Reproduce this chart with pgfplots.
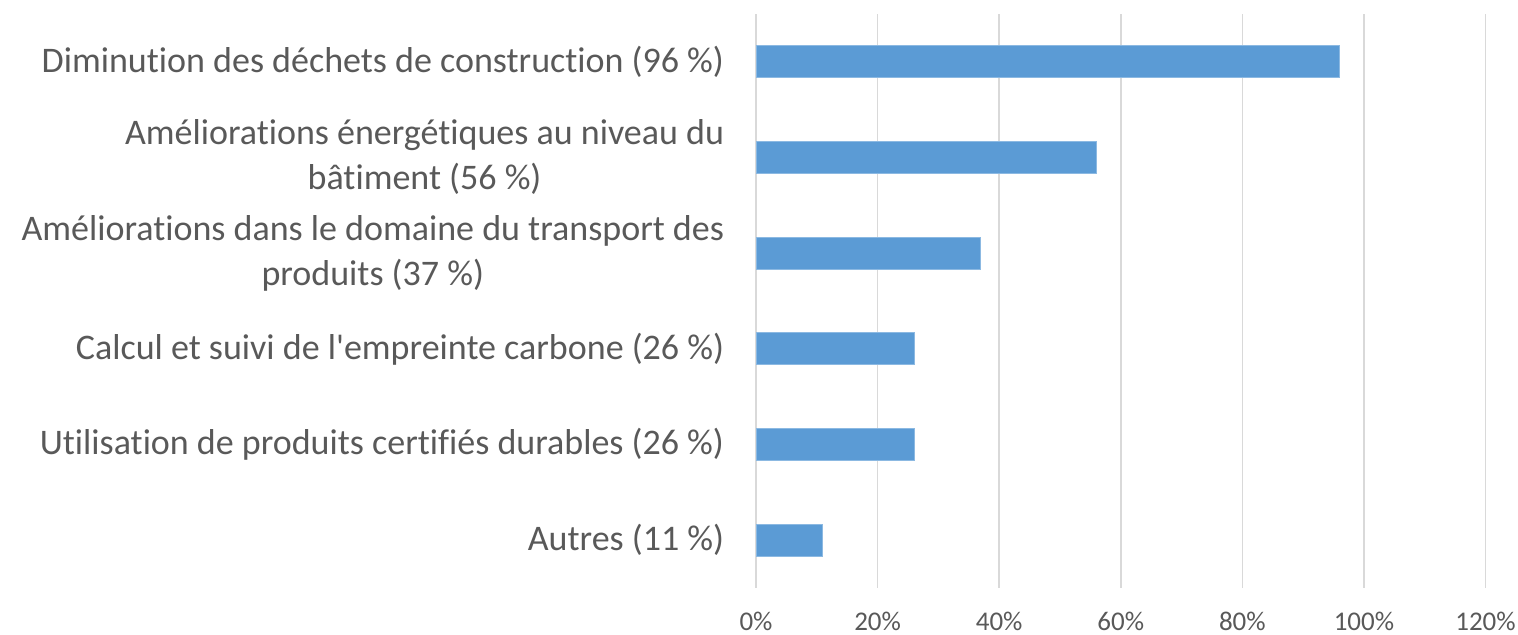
\documentclass[border=0pt]{standalone}
\usepackage{fontspec}
\setmainfont{Carlito}[Ligatures={NoCommon}]
\usepackage{pgfplots}
\pgfplotsset{compat=1.18}
\definecolor{barblue}{HTML}{5B9BD5}
\definecolor{gridgray}{HTML}{D9D9D9}
\definecolor{txtgray}{HTML}{595959}
\begin{document}
\begin{tikzpicture}
\path[use as bounding box] (0,0) rectangle (759pt,317.5pt);
\begin{axis}[
  at={(378pt,23.5pt)}, anchor=south west,
  width=364.75pt, height=287pt, scale only axis,
  xbar,
  xmin=0, xmax=120, ymin=-0.5, ymax=5.5,
  xtick={0,20,40,60,80,100,120},
  xticklabels={0\%,20\%,40\%,60\%,80\%,100\%,120\%},
  ytick={0,1,2,3,4,5},
  yticklabels={
    Autres (11~\%),
    Utilisation de produits certifiés durables (26~\%),
    Calcul et suivi de l\textquotesingle empreinte carbone (26~\%),
    {Améliorations dans le domaine du transport des\\produits (37~\%)},
    {Améliorations énergétiques au niveau du\\bâtiment (56~\%)},
    Diminution des déchets de construction (96~\%)},
  axis line style={draw=none},
  tick style={draw=none},
  xmajorgrids,
  grid style={color=gridgray, line width=0.75pt},
  yticklabel style={anchor=east, inner sep=0pt, xshift=-11.5pt, align=center,
    font=\fontsize{18}{22.5}\selectfont, text=txtgray},
  xticklabel style={anchor=north, inner sep=0pt, yshift=-12pt,
    font=\fontsize{13.5}{16}\selectfont, text=txtgray},
]
% share of respondents per measure
\addplot[fill=barblue, draw=barblue!70!white, line width=0.5pt, bar width=0.334]
  coordinates {(11,0) (26,1) (26,2) (37,3) (56,4) (96,5)};
\end{axis}
\end{tikzpicture}
\end{document}
